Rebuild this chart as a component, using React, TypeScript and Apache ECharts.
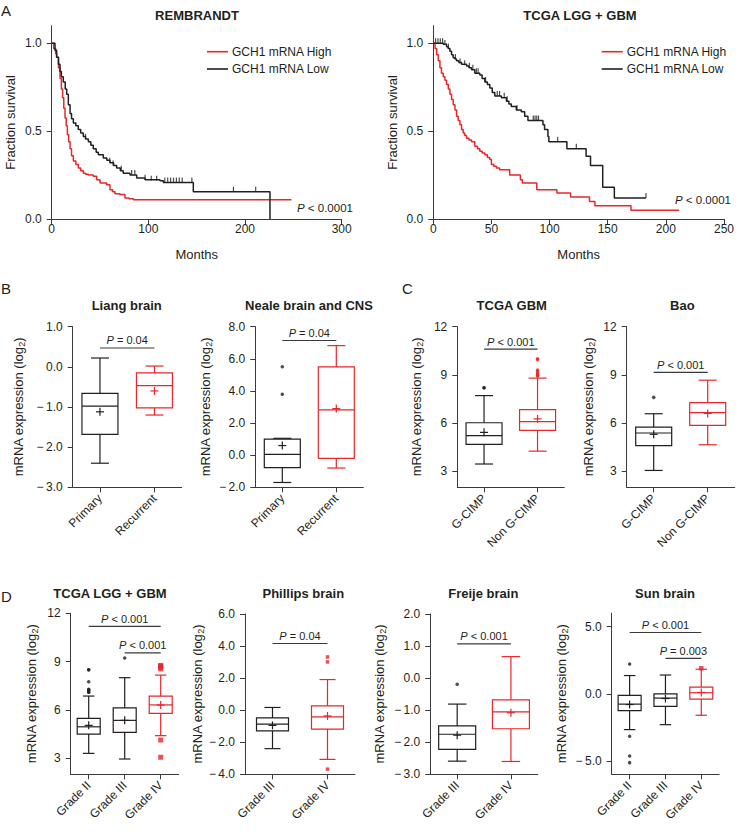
import React, { useEffect, useRef } from 'react';
import * as echarts from 'echarts';

const RED = '#e8262b';
const BLACK = '#231f20';
const AXIS = '#3a3a3a';
const FONT = '"Liberation Sans", Arial, Helvetica, sans-serif';

// ---------- Panel A: Kaplan-Meier data [months, fraction surviving] ----------
const kmLegend = ['GCH1 mRNA High', 'GCH1 mRNA Low'];
const kmYTicks = [0, 0.5, 1.0];
const rembrandtXTicks = [0, 100, 200, 300];
const tcgaXTicks = [0, 50, 100, 150, 200, 250];

const rembrandtHigh = [[0,1],[2,0.97],[4,0.94],[5.1,0.92],[7,0.86],[8.6,0.8],[10,0.74],[11.3,0.69],[12.5,0.63],[13.8,0.575],[15,0.53],[16.2,0.48],[17.5,0.44],[19,0.4],[20.5,0.36],[22.4,0.33],[25,0.31],[27.5,0.29],[30,0.275],[32.7,0.26],[35,0.255],[37.9,0.25],[43,0.243],[46.5,0.224],[50,0.205],[56.9,0.195],[60.3,0.167],[63,0.155],[65.5,0.144],[70.6,0.139],[75.8,0.12],[80,0.115],[84.5,0.11],[248,0.11]];
const rembrandtLow = [[0,1],[3.4,0.96],[5.1,0.92],[7,0.88],[8.6,0.84],[10,0.81],[12,0.78],[14,0.74],[15.5,0.71],[17.2,0.65],[19,0.6],[20.5,0.57],[22.4,0.546],[25,0.53],[27.5,0.51],[30,0.49],[32.7,0.47],[35,0.455],[37.9,0.44],[40.5,0.42],[43,0.4],[46,0.38],[48.2,0.366],[53.4,0.347],[57,0.335],[60.3,0.32],[64,0.305],[67.2,0.29],[71,0.275],[74,0.26],[81,0.25],[87.9,0.233],[96.6,0.224],[112,0.218],[115.5,0.207],[146.5,0.155],[225.8,0]];
const rembrandtLowCensor = [[35,0.455],[60,0.32],[63.5,0.305],[72,0.275],[82.7,0.25],[86,0.25],[96.6,0.224],[103,0.218],[108.6,0.218],[117,0.207],[120,0.207],[123,0.207],[126,0.207],[129,0.207],[132,0.207],[135,0.207],[145,0.207],[188,0.155],[211,0.155]];

const tcgaHigh = [[0,1],[1.5,0.97],[2.9,0.935],[4.3,0.9],[5.7,0.86],[7,0.83],[8.6,0.81],[10,0.79],[11.4,0.765],[12.9,0.74],[14.3,0.71],[15.7,0.68],[17.1,0.65],[18.6,0.62],[20,0.585],[21.4,0.56],[22.9,0.537],[24.3,0.51],[25.7,0.49],[27,0.475],[28.6,0.46],[30.7,0.45],[32.9,0.44],[35.7,0.414],[38,0.4],[40,0.385],[42,0.375],[44.3,0.366],[46.5,0.35],[48.6,0.338],[50,0.31],[52,0.3],[54.3,0.29],[57,0.28],[65.7,0.25],[74.9,0.224],[76.6,0.205],[89,0.167],[106.3,0.148],[118,0.125],[134.3,0.1],[139,0.076],[170,0.05],[211.4,0.05]];
const tcgaLow = [[0,1],[8.6,0.995],[11.4,0.98],[12.8,0.97],[14.3,0.955],[15.7,0.935],[17.1,0.917],[18.6,0.91],[20,0.9],[22,0.89],[24.3,0.88],[28.6,0.87],[30.7,0.86],[32.9,0.85],[35.7,0.83],[40,0.82],[42,0.8],[44.3,0.78],[46.5,0.765],[48.6,0.746],[50.7,0.72],[52.9,0.7],[58.6,0.69],[62.9,0.67],[65,0.655],[67.1,0.64],[71.4,0.62],[75.7,0.61],[78.6,0.585],[81.4,0.56],[94.3,0.537],[95.7,0.51],[98.6,0.47],[99.4,0.44],[114.9,0.4],[131.4,0.357],[135.2,0.305],[145.7,0.18],[155.7,0.12],[182.9,0.12]];
const tcgaLowCensor = [[2,1],[4,1],[6,1],[8,1],[10,0.99],[13,0.97],[19,0.91],[23,0.885],[27,0.875],[31,0.86],[34,0.85],[37,0.83],[38.5,0.83],[45,0.78],[55,0.7],[57,0.7],[61,0.69],[63.5,0.67],[72,0.62],[86,0.56],[87.5,0.56],[89,0.56],[90.5,0.56],[107,0.44],[123,0.4],[182.9,0.12]];

// ---------- Box plots: [min, Q1, median, Q3, max, mean] ----------
const liangCats = ['Primary', 'Recurrent'];
const liangBoxes = [[-2.4, -1.68, -0.98, -0.66, 0.22, -1.12], [-1.2, -1.02, -0.47, -0.15, 0.02, -0.6]];
const liangOutliers = [[], []];
const liangTicks = [-3, -2, -1, 0, 1];
const liangBrackets = [[0, 1, 0.47]];
const liangPTexts = ['= 0.04'];

const nealeCats = ['Primary', 'Recurrent'];
const nealeBoxes = [[-1.7, -0.77, 0.05, 1.0, 1.05, 0.6], [-0.8, -0.2, 2.82, 5.5, 6.82, 2.9]];
const nealeOutliers = [[5.5, 3.8], []];
const nealeTicks = [-2, 0, 2, 4, 6, 8];
const nealeBrackets = [[0, 1, 7.14]];
const nealePTexts = ['= 0.04'];

const gbmCats = ['G-CIMP', 'Non G-CIMP'];
const gbmBoxes = [[3.45, 4.67, 5.22, 6.02, 7.71, 5.42], [4.25, 5.54, 6.09, 6.84, 8.8, 6.26]];
const gbmOutliers = [[8.2, 8.2], [10.0, 9.95, 9.3, 9.23, 9.13, 9.02, 8.98, 8.92]];
const gbmTicks = [3, 6, 9, 12];
const gbmBrackets = [[0, 1, 10.6]];
const gbmPTexts = ['< 0.001'];

const baoCats = ['G-CIMP', 'Non G-CIMP'];
const baoBoxes = [[3.05, 4.6, 5.38, 5.75, 6.58, 5.3], [4.65, 5.86, 6.65, 7.27, 8.67, 6.6]];
const baoOutliers = [[7.6], []];
const baoTicks = [3, 6, 9, 12];
const baoBrackets = [[0, 1, 9.15]];
const baoPTexts = ['< 0.001'];

const lggCats = ['Grade II', 'Grade III', 'Grade IV'];
const lggBoxes = [[3.3, 4.5, 4.95, 5.47, 6.86, 5.04], [2.95, 4.6, 5.35, 6.12, 8.0, 5.35], [4.4, 5.78, 6.31, 6.86, 8.16, 6.3]];
const lggOutliers = [[8.5, 8.5, 7.75, 7.28, 7.25, 7.2, 7.1, 7.1], [9.23], [8.76, 8.72, 8.65, 8.55, 4.13, 3.06]];
const lggTicks = [3, 6, 9, 12];
const lggBrackets = [[0, 2, 11.19], [1, 2, 9.54]];
const lggPTexts = ['< 0.001', '< 0.001'];

const phillipsCats = ['Grade III', 'Grade IV'];
const phillipsBoxes = [[-2.4, -1.29, -0.87, -0.48, 0.17, -0.95], [-3.07, -1.18, -0.42, 0.27, 1.91, -0.36]];
const phillipsOutliers = [[], [3.32, 3.01, -3.68]];
const phillipsTicks = [-4, -2, 0, 2, 4, 6];
const phillipsBrackets = [[0, 1, 4.16]];
const phillipsPTexts = ['= 0.04'];

const freijeCats = ['Grade III', 'Grade IV'];
const freijeBoxes = [[-2.59, -2.22, -1.75, -1.49, -0.81, -1.78], [-2.6, -1.58, -1.05, -0.68, 0.67, -1.08]];
const freijeOutliers = [[-0.19], []];
const freijeTicks = [-3, -2, -1, 0, 1, 2];
const freijeBrackets = [[0, 1, 1.07]];
const freijePTexts = ['< 0.001'];

const sunCats = ['Grade II', 'Grade III', 'Grade IV'];
const sunBoxes = [[-2.67, -1.26, -0.77, -0.12, 1.36, -0.8], [-2.3, -0.94, -0.32, 0.0, 1.4, -0.35], [-1.6, -0.39, 0.08, 0.5, 1.83, 0.1]];
const sunOutliers = [[2.22, -3.16, -4.64, -5.13], [], [1.9]];
const sunTicks = [-5, 0, 5];
const sunBrackets = [[0, 2, 4.57], [1, 2, 2.64]];
const sunPTexts = ['< 0.001', '= 0.003'];

// ---------- layout / style configuration ----------
const boxPanels = [
  { title: 'Liang brain', titlePos: [126.7, 305], cats: liangCats, boxes: liangBoxes, outliers: liangOutliers, ticks: liangTicks, brackets: liangBrackets, pTexts: liangPTexts,
    colors: [BLACK, RED], sym: ['circle', 'circle'], symSize: [3.5, 3.5], grid: { left: 72.7, top: 326.7, width: 109, height: 160.6 }, yMin: -3, yMax: 1, dec: 1, nameGap: 46, boxW: 36 },
  { title: 'Neale brain and CNS', titlePos: [309, 305], cats: nealeCats, boxes: nealeBoxes, outliers: nealeOutliers, ticks: nealeTicks, brackets: nealeBrackets, pTexts: nealePTexts,
    colors: [BLACK, RED], sym: ['circle', 'circle'], symSize: [3.5, 3.5], grid: { left: 255.3, top: 326.7, width: 108, height: 160.6 }, yMin: -2, yMax: 8, dec: 1, nameGap: 42, boxW: 36 },
  { title: 'TCGA GBM', titlePos: [511.7, 305], cats: gbmCats, boxes: gbmBoxes, outliers: gbmOutliers, ticks: gbmTicks, brackets: gbmBrackets, pTexts: gbmPTexts,
    colors: [BLACK, RED], sym: ['circle', 'circle'], symSize: [3.5, 3.5], grid: { left: 457.3, top: 326.7, width: 107, height: 160.6 }, yMin: 2, yMax: 12, dec: 0, nameGap: 33, boxW: 36 },
  { title: 'Bao', titlePos: [682.3, 305], cats: baoCats, boxes: baoBoxes, outliers: baoOutliers, ticks: baoTicks, brackets: baoBrackets, pTexts: baoPTexts,
    colors: [BLACK, RED], sym: ['circle', 'circle'], symSize: [3.5, 3.5], grid: { left: 626.7, top: 326.7, width: 108, height: 160.6 }, yMin: 2, yMax: 12, dec: 0, nameGap: 30, boxW: 36 },
  { title: 'TCGA LGG + GBM', titlePos: [110, 593.3], cats: lggCats, boxes: lggBoxes, outliers: lggOutliers, ticks: lggTicks, brackets: lggBrackets, pTexts: lggPTexts,
    colors: [BLACK, BLACK, RED], sym: ['circle', 'circle', 'rect'], symSize: [3.5, 3.5, 5], grid: { left: 70.7, top: 613.3, width: 108, height: 161 }, yMin: 2, yMax: 12, dec: 0, nameGap: 31, boxW: 23 },
  { title: 'Phillips brain', titlePos: [303.3, 593.3], cats: phillipsCats, boxes: phillipsBoxes, outliers: phillipsOutliers, ticks: phillipsTicks, brackets: phillipsBrackets, pTexts: phillipsPTexts,
    colors: [BLACK, RED], sym: ['circle', 'rect'], symSize: [3.5, 3.5], grid: { left: 245, top: 614, width: 110, height: 160.3 }, yMin: -4, yMax: 6, dec: 1, nameGap: 37, boxW: 32 },
  { title: 'Freije brain', titlePos: [483.3, 593.3], cats: freijeCats, boxes: freijeBoxes, outliers: freijeOutliers, ticks: freijeTicks, brackets: freijeBrackets, pTexts: freijePTexts,
    colors: [BLACK, RED], sym: ['circle', 'circle'], symSize: [3.5, 3.5], grid: { left: 430.3, top: 614, width: 107.5, height: 160.3 }, yMin: -3, yMax: 2, dec: 1, nameGap: 43, boxW: 37 },
  { title: 'Sun brain', titlePos: [665, 593.3], cats: sunCats, boxes: sunBoxes, outliers: sunOutliers, ticks: sunTicks, brackets: sunBrackets, pTexts: sunPTexts,
    colors: [BLACK, BLACK, RED], sym: ['circle', 'circle', 'rect'], symSize: [3.5, 3.5, 4.5], grid: { left: 611.7, top: 613.3, width: 107.5, height: 161 }, yMin: -6, yMax: 6, dec: 1, nameGap: 42, boxW: 23 },
];

const fmt = (v: number, d: number) => {
  const s = Math.abs(v).toFixed(d);
  return v < 0 ? '\u2212\u2009' + s : s;
};

const pRich = (size: number) => ({
  i: { fontStyle: 'italic', fontSize: size, fontFamily: FONT, fill: BLACK, color: BLACK },
  n: { fontSize: size, fontFamily: FONT, fill: BLACK, color: BLACK },
});

function buildOption() {
  const grid: any[] = [];
  const xAxis: any[] = [];
  const yAxis: any[] = [];
  const series: any[] = [];
  const graphic: any[] = [];

  const axisLine = { show: true, onZero: false, lineStyle: { color: AXIS, width: 1 } };
  const axisTick = (cv?: number[]) => ({ show: true, length: 5, lineStyle: { color: AXIS, width: 1 }, ...(cv ? { customValues: cv } : {}) });

  // KM panels
  const km = [
    { grid: { left: 51.7, top: 25.7, width: 290, height: 193.3 }, xMax: 300, xTicks: rembrandtXTicks, high: rembrandtHigh, low: rembrandtLow, cens: rembrandtLowCensor, nameGap: 35, legendLeft: 207, title: 'REMBRANDT', titlePos: [197, 15], pPos: [297, 208] },
    { grid: { left: 433.3, top: 25.7, width: 291.7, height: 193.3 }, xMax: 250, xTicks: tcgaXTicks, high: tcgaHigh, low: tcgaLow, cens: tcgaLowCensor, nameGap: 34, legendLeft: 601.7, title: 'TCGA LGG + GBM', titlePos: [580, 15], pPos: [675, 200] },
  ];
  km.forEach((k, gi) => {
    grid.push(k.grid);
    xAxis.push({
      type: 'value', gridIndex: gi, min: 0, max: k.xMax, splitLine: { show: false },
      axisLine, axisTick: axisTick(k.xTicks),
      axisLabel: { customValues: k.xTicks, fontSize: 12, fontFamily: FONT, color: BLACK, margin: 4 },
      name: 'Months', nameLocation: 'middle', nameGap: 29, nameTextStyle: { fontSize: 13, fontFamily: FONT, color: BLACK },
    });
    yAxis.push({
      type: 'value', gridIndex: gi, min: 0, max: 1.1, splitLine: { show: false },
      axisLine, axisTick: axisTick(kmYTicks),
      axisLabel: { customValues: kmYTicks, formatter: (v: number) => v.toFixed(1), fontSize: 12, fontFamily: FONT, color: BLACK, margin: 10 },
      name: 'Fraction survival', nameLocation: 'middle', nameGap: k.nameGap, nameTextStyle: { fontSize: 13, fontFamily: FONT, color: BLACK },
    });
    series.push({ type: 'line', name: kmLegend[0], xAxisIndex: gi, yAxisIndex: gi, data: k.high, step: 'end', symbol: 'none', lineStyle: { color: RED, width: 1.5 }, itemStyle: { color: RED } });
    series.push({ type: 'line', name: kmLegend[1], xAxisIndex: gi, yAxisIndex: gi, data: k.low, step: 'end', symbol: 'none', lineStyle: { color: BLACK, width: 1.5 }, itemStyle: { color: BLACK } });
    series.push({ type: 'scatter', xAxisIndex: gi, yAxisIndex: gi, data: k.cens, symbol: 'rect', symbolSize: [1.2, 5], symbolOffset: [0, -2.5], itemStyle: { color: BLACK } });
    // legend (drawn as graphic)
    [RED, BLACK].forEach((c, li) => {
      const ly = 51.7 + li * 17.3;
      graphic.push({ type: 'line', shape: { x1: k.legendLeft, y1: ly, x2: k.legendLeft + 21, y2: ly }, style: { stroke: c, lineWidth: 1.6 } });
      graphic.push({ type: 'text', x: k.legendLeft + 25, y: ly, style: { text: kmLegend[li], font: `12px ${FONT}`, fill: BLACK, align: 'left', verticalAlign: 'middle' } });
    });
    graphic.push({ type: 'text', x: k.titlePos[0], y: k.titlePos[1], style: { text: k.title, font: `bold 13px ${FONT}`, fill: BLACK, align: 'center', verticalAlign: 'middle' } });
    graphic.push({ type: 'text', x: k.pPos[0], y: k.pPos[1], style: { text: '{i|P}{n| < 0.0001}', rich: pRich(11.5), fill: BLACK, align: 'left', verticalAlign: 'middle' } });
  });

  boxPanels.forEach((p, pi) => {
    const gi = pi + 2;
    grid.push(p.grid);
    xAxis.push({
      type: 'category', gridIndex: gi, data: p.cats, boundaryGap: true,
      axisLine, axisTick: { ...axisTick(), alignWithLabel: true },
      axisLabel: { rotate: 45, interval: 0, margin: 9, fontSize: 12, fontFamily: FONT, color: BLACK },
    });
    yAxis.push({
      type: 'value', gridIndex: gi, min: p.yMin, max: p.yMax, splitLine: { show: false },
      axisLine, axisTick: axisTick(p.ticks),
      axisLabel: { customValues: p.ticks, formatter: (v: number) => fmt(v, p.dec), fontSize: 12, fontFamily: FONT, color: BLACK, margin: 10 },
      name: '{a|mRNA expression (log}{s|2}{a|)}', nameLocation: 'middle', nameGap: p.nameGap,
      nameTextStyle: {
        rich: {
          a: { fontSize: 13, fontFamily: FONT, color: BLACK },
          s: { fontSize: 9, fontFamily: FONT, color: BLACK, padding: [7, 0, 0, 0] },
        },
      },
    });
    const boxW = p.boxW;
    const colors = p.colors;
    series.push({
      type: 'custom', xAxisIndex: gi, yAxisIndex: gi,
      data: p.boxes.map((b, i) => [i, ...b]),
      encode: { x: 0, y: [1, 2, 3, 4, 5] },
      renderItem: (params: any, api: any) => {
        const i = api.value(0);
        const y = (k: number) => api.coord([i, api.value(k)])[1];
        const x = api.coord([i, api.value(3)])[0];
        const yMin = y(1), yQ1 = y(2), yMed = y(3), yQ3 = y(4), yMax = y(5), yMean = y(6);
        const hw = boxW / 2, cw = boxW / 4, mw = 4;
        const st = { stroke: colors[i], lineWidth: 1.2, fill: null };
        return {
          type: 'group',
          children: [
            { type: 'line', shape: { x1: x, y1: yMax, x2: x, y2: yQ3 }, style: st },
            { type: 'line', shape: { x1: x, y1: yQ1, x2: x, y2: yMin }, style: st },
            { type: 'line', shape: { x1: x - cw, y1: yMax, x2: x + cw, y2: yMax }, style: st },
            { type: 'line', shape: { x1: x - cw, y1: yMin, x2: x + cw, y2: yMin }, style: st },
            { type: 'rect', shape: { x: x - hw, y: yQ3, width: boxW, height: yQ1 - yQ3 }, style: { stroke: colors[i], lineWidth: 1.2, fill: 'transparent' } },
            { type: 'line', shape: { x1: x - hw, y1: yMed, x2: x + hw, y2: yMed }, style: st },
            { type: 'line', shape: { x1: x - mw, y1: yMean, x2: x + mw, y2: yMean }, style: st },
            { type: 'line', shape: { x1: x, y1: yMean - mw, x2: x, y2: yMean + mw }, style: st },
          ],
        };
      },
    });
    series.push({
      type: 'scatter', xAxisIndex: gi, yAxisIndex: gi,
      data: p.outliers.flatMap((vals: number[], ci: number) => vals.map((v) => ({
        value: [ci, v], symbol: p.sym[ci], symbolSize: p.symSize[ci], itemStyle: { color: p.colors[ci] },
      }))),
    });
    const pTexts = p.pTexts;
    series.push({
      type: 'custom', xAxisIndex: gi, yAxisIndex: gi,
      data: p.brackets,
      encode: { x: [0, 1], y: 2 },
      renderItem: (params: any, api: any) => {
        const a = api.coord([api.value(0), api.value(2)]);
        const b = api.coord([api.value(1), api.value(2)]);
        return {
          type: 'group',
          children: [
            { type: 'line', shape: { x1: a[0], y1: a[1], x2: b[0], y2: b[1] }, style: { stroke: AXIS, lineWidth: 1.2 } },
            { type: 'text', x: (a[0] + b[0]) / 2, y: a[1] - 2,
              style: { text: '{i|P}{n| ' + pTexts[params.dataIndex] + '}', rich: pRich(11), fill: BLACK, align: 'center', verticalAlign: 'bottom' } },
          ],
        };
      },
    });
    graphic.push({ type: 'text', x: p.titlePos[0], y: p.titlePos[1], style: { text: p.title, font: `bold 13px ${FONT}`, fill: BLACK, align: 'center', verticalAlign: 'middle' } });
  });

  const letters: [string, number, number][] = [['A', 1, 10], ['B', 1, 288], ['C', 402, 288], ['D', 1, 596]];
  letters.forEach(([t, x, y]) => graphic.push({ type: 'text', x, y, style: { text: t, font: `15px ${FONT}`, fill: BLACK, align: 'left', verticalAlign: 'middle' } }));

  return { animation: false, backgroundColor: '#fff', grid, xAxis, yAxis, series, graphic };
}

export default function App() {
  const ref = useRef<HTMLDivElement>(null);
  useEffect(() => {
    if (!ref.current) return;
    const chart = echarts.init(ref.current, undefined, { renderer: 'svg' });
    chart.setOption(buildOption() as any);
    return () => chart.dispose();
  }, []);
  return <div ref={ref} style={{ position: 'absolute', left: 0, top: 0, width: 737, height: 833, background: '#fff' }} />;
}
